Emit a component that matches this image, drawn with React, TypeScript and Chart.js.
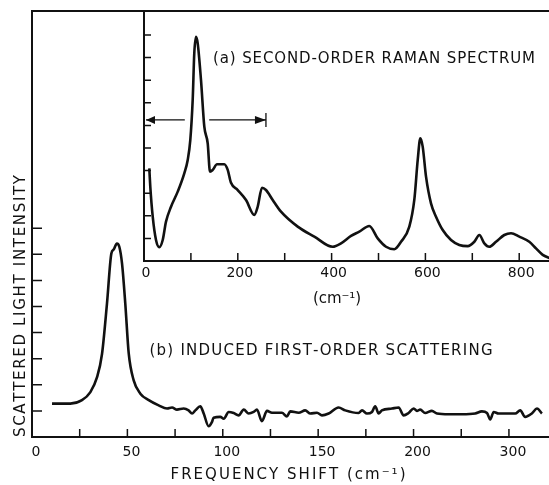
import React, { useEffect, useRef } from "react";
import { Chart, registerables } from "chart.js";

Chart.register(...registerables);

// ---- (b) Induced first-order scattering (main plot) ----
const mainShift = [
  10.5, 20.1, 26.2, 30.6, 34.1, 36.7, 39.3, 41.6, 42.8, 44.5, 45.8, 47.2, 48.9, 50.7, 53.3, 56.8,
  61.2, 66.4, 70.8, 73.4, 76.0, 79.5, 82.1, 83.9, 85.6, 88.2, 90.0, 92.6, 94.3, 95.2, 98.7,
  100.5, 103.1, 105.7, 108.3, 111.0, 113.6, 116.2, 117.9, 120.5, 123.2, 125.8, 131.0, 133.6,
  135.4, 139.8, 143.2, 145.9, 149.4, 152.0, 155.5, 160.7, 164.2, 171.2, 173.0, 175.6, 178.2,
  179.9, 181.7, 183.4, 188.7, 192.2, 194.8, 197.4, 200.1, 201.8, 203.5, 206.1, 209.6, 212.3,
  218.4, 225.4, 232.3, 235.8, 238.5, 240.2, 242.0, 244.6, 253.3, 255.9, 258.5, 262.0, 264.7, 267.3,
];
const mainIntensity = [
  1.28, 1.28, 1.41, 1.72, 2.29, 3.18, 5.11, 7.03, 7.18, 7.41, 7.28, 6.64, 5.11, 3.2, 2.17, 1.66,
  1.41, 1.21, 1.09, 1.13, 1.05, 1.09, 1.02, 0.9, 1.02, 1.18, 0.9, 0.41, 0.57, 0.74, 0.77,
  0.7, 0.96, 0.92, 0.83, 1.05, 0.9, 0.96, 1.05, 0.61, 1.0, 0.93, 0.93, 0.79,
  0.98, 0.93, 1.02, 0.9, 0.93, 0.83, 0.9, 1.13, 1.02, 0.92, 1.02, 0.9, 0.96,
  1.18, 0.9, 1.02, 1.09, 1.13, 0.83, 0.92, 1.09, 1.0, 1.05, 0.92, 1.0, 0.9,
  0.87, 0.87, 0.9, 0.98, 0.92, 0.67, 0.96, 0.9, 0.9, 1.02, 0.77, 0.9, 1.09, 0.9,
];
const mainXTicks = [25, 50, 75, 100, 125, 150, 175, 200, 225, 250];
const mainXLabelValues = [0, 50, 100, 150, 200, 250];
const mainXLabels = ["0", "50", "100", "150", "200", "300"];
const mainYTicks = [1, 2, 3, 4, 5, 6, 7, 8];

// ---- (a) Second-order Raman spectrum (inset) ----
const insetShift = [
  11.3, 13.4, 18.6, 25.6, 32.6, 39.9, 46.9, 57.6, 71.9, 85.9, 93.2, 98.7, 103.8, 107.2, 110.9,
  114.5, 121.5, 128.6, 135.8, 140.7, 146.5, 155.7, 171.2, 178.5, 185.5, 199.8, 217.5, 235.2,
  242.4, 251.6, 260.1, 274.4, 292.1, 327.7, 363.1, 402.3, 420.0, 441.4, 459.1, 480.4, 498.3,
  516.0, 533.7, 548.0, 565.7, 576.3, 583.6, 589.1, 594.2, 601.3, 611.9, 622.6, 636.9, 654.6,
  672.3, 690.2, 704.3, 715.0, 725.6, 736.2, 750.5, 768.2, 782.5, 800.2, 821.5, 835.8, 850.1, 865.7,
];
const insetIntensity = [
  4.1, 3.29, 1.96, 0.93, 0.61, 0.93, 1.74, 2.4, 3.07, 3.88, 4.47, 5.35, 7.12, 9.19, 9.92,
  9.63, 8.01, 5.94, 5.21, 3.95, 4.03, 4.28, 4.28, 4.03, 3.46, 3.14, 2.7, 2.04,
  2.4, 3.24, 3.14, 2.7, 2.18, 1.52, 1.08, 0.63, 0.78, 1.11, 1.3, 1.55, 1.0,
  0.63, 0.52, 0.85, 1.52, 2.7, 4.47, 5.43, 5.06, 3.73, 2.55, 1.96, 1.37, 0.93,
  0.71, 0.66, 0.85, 1.15, 0.78, 0.63, 0.85, 1.15, 1.23, 1.08, 0.85, 0.56, 0.27, 0.12,
];
const insetXTicks = [100, 200, 300, 400, 500, 600, 700, 800];
const insetXLabelValues = [0, 200, 400, 600, 800];
const insetXLabels = ["0", "200", "400", "600", "800"];
const insetYTicks = [1, 2, 3, 4, 5, 6, 7, 8, 9, 10];
// arrow marking a span on the inset: [start, gapStart, gapEnd, end] at intensity level
const arrowSpan = [0, 87, 139, 260];
const arrowLevel = 6.24;

const FONT = '"DejaVu Sans", sans-serif';
const INK = "#111";

function drawSpaced(ctx: CanvasRenderingContext2D, text: string, cx: number, cy: number, width: number) {
  const chars = Array.from(text);
  const ws = chars.map((c) => ctx.measureText(c).width);
  const natural = ws.reduce((a, b) => a + b, 0);
  const gap = chars.length > 1 ? (width - natural) / (chars.length - 1) : 0;
  let x = cx - width / 2;
  ctx.textAlign = "left";
  ctx.textBaseline = "middle";
  chars.forEach((c, i) => {
    ctx.fillText(c, x, cy);
    x += ws[i] + gap;
  });
}

const mainDecor = {
  id: "mainDecor",
  afterDraw(chart: any) {
    const { ctx, chartArea: a, scales } = chart;
    const sx = scales.x, sy = scales.y;
    ctx.save();
    ctx.strokeStyle = INK;
    ctx.fillStyle = INK;
    ctx.lineWidth = 2;
    ctx.beginPath();
    ctx.moveTo(a.right, a.top);
    ctx.lineTo(a.left, a.top);
    ctx.lineTo(a.left, a.bottom);
    ctx.lineTo(a.right, a.bottom);
    ctx.stroke();
    ctx.lineWidth = 1.5;
    ctx.beginPath();
    mainYTicks.forEach((v) => {
      const y = sy.getPixelForValue(v);
      ctx.moveTo(a.left, y);
      ctx.lineTo(a.left + 10, y);
    });
    mainXTicks.forEach((v) => {
      const x = sx.getPixelForValue(v);
      ctx.moveTo(x, a.bottom);
      ctx.lineTo(x, a.bottom - 8);
    });
    ctx.stroke();
    ctx.font = `14px ${FONT}`;
    ctx.textAlign = "center";
    ctx.textBaseline = "middle";
    mainXLabelValues.forEach((v, i) => {
      ctx.fillText(mainXLabels[i], sx.getPixelForValue(v) + 4, a.bottom + 15);
    });
    ctx.font = `15px ${FONT}`;
    drawSpaced(ctx, "FREQUENCY SHIFT (cm⁻¹)", 288, a.bottom + 38, 235);
    drawSpaced(ctx, "(b) INDUCED FIRST-ORDER SCATTERING", 321, 350.7, 343);
    ctx.save();
    ctx.translate(20.7, 306);
    ctx.rotate(-Math.PI / 2);
    drawSpaced(ctx, "SCATTERED LIGHT INTENSITY", 0, 0, 262);
    ctx.restore();
    ctx.restore();
  },
};

const insetDecor = {
  id: "insetDecor",
  afterDraw(chart: any) {
    const { ctx, chartArea: a, scales } = chart;
    const sx = scales.x, sy = scales.y;
    ctx.save();
    ctx.strokeStyle = INK;
    ctx.fillStyle = INK;
    ctx.lineWidth = 2;
    ctx.beginPath();
    ctx.moveTo(a.left, a.top);
    ctx.lineTo(a.left, a.bottom);
    ctx.lineTo(a.right, a.bottom);
    ctx.stroke();
    ctx.lineWidth = 1.5;
    ctx.beginPath();
    insetYTicks.forEach((v) => {
      const y = sy.getPixelForValue(v);
      ctx.moveTo(a.left, y);
      ctx.lineTo(a.left + 7, y);
    });
    insetXTicks.forEach((v) => {
      const x = sx.getPixelForValue(v);
      ctx.moveTo(x, a.bottom);
      ctx.lineTo(x, a.bottom - 8);
    });
    ctx.stroke();
    // arrow
    const ay = sy.getPixelForValue(arrowLevel);
    const x0 = sx.getPixelForValue(arrowSpan[0]) + 2;
    const g0 = sx.getPixelForValue(arrowSpan[1]);
    const g1 = sx.getPixelForValue(arrowSpan[2]);
    const x1 = sx.getPixelForValue(arrowSpan[3]);
    ctx.lineWidth = 1.3;
    ctx.beginPath();
    ctx.moveTo(x0, ay);
    ctx.lineTo(g0, ay);
    ctx.moveTo(g1, ay);
    ctx.lineTo(x1, ay);
    ctx.moveTo(x1, ay - 7);
    ctx.lineTo(x1, ay + 7);
    ctx.stroke();
    ctx.beginPath();
    ctx.moveTo(x0, ay);
    ctx.lineTo(x0 + 9, ay - 4);
    ctx.lineTo(x0 + 9, ay + 4);
    ctx.closePath();
    ctx.moveTo(x1, ay);
    ctx.lineTo(x1 - 11, ay - 4);
    ctx.lineTo(x1 - 11, ay + 4);
    ctx.closePath();
    ctx.fill();
    ctx.font = `14px ${FONT}`;
    ctx.textAlign = "center";
    ctx.textBaseline = "middle";
    insetXLabelValues.forEach((v, i) => {
      ctx.fillText(insetXLabels[i], sx.getPixelForValue(v) + 2, a.bottom + 12);
    });
    ctx.font = `15px ${FONT}`;
    drawSpaced(ctx, "(cm⁻¹)", 337, a.bottom + 38, 48);
    drawSpaced(ctx, "(a) SECOND-ORDER RAMAN SPECTRUM", 374, 59.3, 322);
    ctx.restore();
  },
};

function makeConfig(xs: number[], ys: number[], xMax: number, yMax: number, padding: any, plugin: any): any {
  return {
    type: "line",
    data: {
      datasets: [
        {
          data: xs.map((x, i) => ({ x, y: ys[i] })),
          borderColor: INK,
          borderWidth: 2.6,
          pointRadius: 0,
          fill: false,
          cubicInterpolationMode: "monotone",
        },
      ],
    },
    options: {
      animation: false,
      responsive: false,
      devicePixelRatio: 1,
      events: [],
      layout: { padding },
      plugins: { legend: { display: false }, tooltip: { enabled: false } },
      scales: {
        x: { type: "linear", min: 0, max: xMax, display: false },
        y: { type: "linear", min: 0, max: yMax, display: false },
      },
    },
    plugins: [plugin],
  };
}

export default function App() {
  const mainRef = useRef<HTMLCanvasElement>(null);
  const insetRef = useRef<HTMLCanvasElement>(null);

  useEffect(() => {
    document.body.style.margin = "0";
    document.body.style.background = "#fff";
    const main = new Chart(
      mainRef.current!,
      makeConfig(mainShift, mainIntensity, 271, 16.32, { left: 32, top: 11, right: 0, bottom: 48 }, mainDecor)
    );
    const inset = new Chart(
      insetRef.current!,
      makeConfig(insetShift, insetIntensity, 863.5, 11.06, { left: 144, top: 11, right: 0, bottom: 224 }, insetDecor)
    );
    return () => {
      main.destroy();
      inset.destroy();
    };
  }, []);

  return (
    <div style={{ position: "relative", width: 549, height: 485, background: "#fff" }}>
      <canvas ref={mainRef} width={549} height={485} style={{ position: "absolute", left: 0, top: 0 }} />
      <canvas ref={insetRef} width={549} height={485} style={{ position: "absolute", left: 0, top: 0 }} />
    </div>
  );
}
